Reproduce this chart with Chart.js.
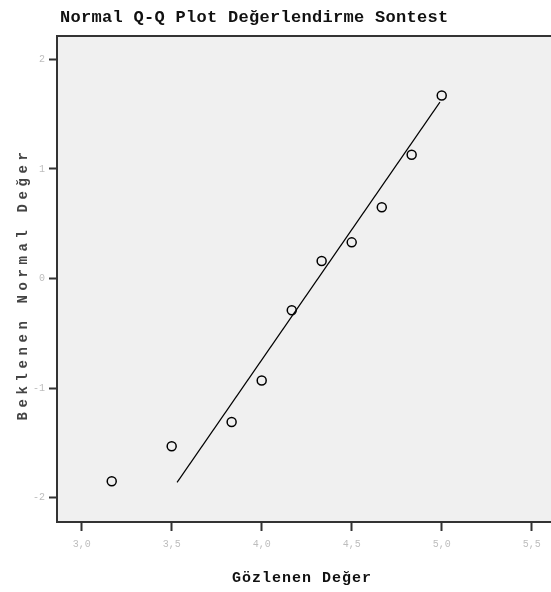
<!DOCTYPE html>
<html>
<head>
<meta charset="utf-8">
<script src="https://cdn.jsdelivr.net/npm/chart.js@4.4.1/dist/chart.umd.min.js"></script>
<style>
    body { margin: 0; background: #fff; }
    #wrap { width: 551px; height: 592px; }
</style>
</head>
<body>
<div id="wrap"><canvas id="qqChart" width="551" height="592"></canvas></div>
<script>
// gözlenen değerler ve beklenen normal değerler
var gozlenen = [3.167, 3.5, 3.833, 4.0, 4.167, 4.333, 4.5, 4.667, 4.833, 5.0];
var beklenen = [-1.85, -1.53, -1.31, -0.93, -0.29, 0.16, 0.33, 0.65, 1.13, 1.67];

// referans doğrusu uç noktaları
var dogruX = [3.53, 4.99];
var dogruY = [-1.86, 1.61];

var xTicks = [3.0, 3.5, 4.0, 4.5, 5.0, 5.5];
var xTickLabels = ['3,0', '3,5', '4,0', '4,5', '5,0', '5,5'];
var yTicks = [2, 1, 0, -1, -2];
var yTickLabels = ['2', '1', '0', '-1', '-2'];

var baslik = 'Normal Q-Q Plot Değerlendirme Sontest';
var xBaslik = 'Gözlenen Değer';
var yBaslik = 'Beklenen Normal Değer';

var noktalar = gozlenen.map(function (x, i) { return { x: x, y: beklenen[i] }; });
var dogru = dogruX.map(function (x, i) { return { x: x, y: dogruY[i] }; });

// grafik alanı arka planı, üst çerçeve ve yazılar
var cerceve = {
    id: 'cerceve',
    beforeDraw: function (chart) {
        var ctx = chart.ctx, a = chart.chartArea;
        ctx.save();
        ctx.fillStyle = '#f0f0f0';
        ctx.fillRect(a.left, a.top, a.right - a.left, a.bottom - a.top);
        ctx.restore();
    },
    afterDraw: function (chart) {
        var ctx = chart.ctx, a = chart.chartArea;
        ctx.save();
        ctx.strokeStyle = '#333';
        ctx.lineWidth = 2;
        ctx.beginPath();
        ctx.moveTo(a.left - 1, a.top);
        ctx.lineTo(a.right, a.top);
        ctx.stroke();

        ctx.fillStyle = '#111';
        ctx.font = 'bold 17px "Liberation Mono"';
        ctx.letterSpacing = '0.3px';
        ctx.textAlign = 'left';
        ctx.textBaseline = 'middle';
        ctx.fillText(baslik, 60, 18);

        ctx.font = 'bold 15px "Liberation Mono"';
        ctx.letterSpacing = '1px';
        ctx.textAlign = 'center';
        ctx.fillText(xBaslik, 302, 578);

        ctx.translate(23, 284);
        ctx.rotate(-Math.PI / 2);
        ctx.fillStyle = '#444';
        ctx.font = 'bold 14px "Liberation Mono"';
        ctx.letterSpacing = '4.6px';
        ctx.fillText(yBaslik, 0, 0);
        ctx.restore();
    }
};

new Chart(document.getElementById('qqChart'), {
    type: 'scatter',
    data: {
        datasets: [{
            data: noktalar,
            pointStyle: 'circle',
            pointRadius: 4.5,
            pointHoverRadius: 4.5,
            borderColor: '#000',
            backgroundColor: 'rgba(0,0,0,0)',
            borderWidth: 1.5
        }, {
            type: 'line',
            data: dogru,
            borderColor: '#000',
            borderWidth: 1.2,
            pointRadius: 0,
            fill: false
        }]
    },
    options: {
        responsive: false,
        animation: false,
        layout: { autoPadding: false, padding: { top: 36, left: 0, right: 0, bottom: 0 } },
        plugins: { legend: { display: false }, tooltip: { enabled: false } },
        scales: {
            x: {
                type: 'linear',
                min: 2.863,
                max: 5.607,
                afterBuildTicks: function (s) { s.ticks = xTicks.map(function (v) { return { value: v }; }); },
                afterFit: function (s) { s.height = 70; },
                border: { color: '#333', width: 2 },
                grid: { drawOnChartArea: false, tickLength: 9, tickWidth: 2, tickColor: '#333' },
                ticks: {
                    color: '#bdbdbd',
                    font: { family: 'Liberation Mono', size: 10 },
                    padding: 7,
                    maxRotation: 0,
                    callback: function (v) { return xTickLabels[xTicks.indexOf(v)]; }
                }
            },
            y: {
                type: 'linear',
                min: -2.222,
                max: 2.213,
                afterBuildTicks: function (s) { s.ticks = yTicks.map(function (v) { return { value: v }; }); },
                afterFit: function (s) { s.width = 57; },
                border: { color: '#333', width: 2 },
                grid: { drawOnChartArea: false, tickLength: 8, tickWidth: 2, tickColor: '#333' },
                ticks: {
                    color: '#bdbdbd',
                    font: { family: 'Liberation Mono', size: 10 },
                    padding: 4,
                    callback: function (v) { return yTickLabels[yTicks.indexOf(v)]; }
                }
            }
        }
    },
    plugins: [cerceve]
});
</script>
</body>
</html>
